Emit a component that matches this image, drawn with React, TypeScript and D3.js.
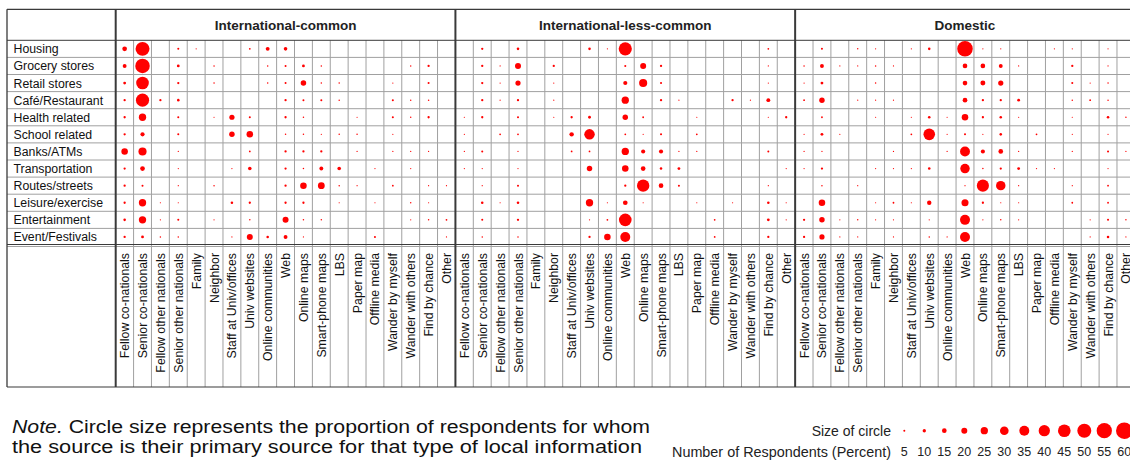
import React from "react";
import * as d3 from "d3";

const categories = ["Housing", "Grocery stores", "Retail stores", "Café/Restaurant", "Health related", "School related", "Banks/ATMs", "Transportation", "Routes/streets", "Leisure/exercise", "Entertainment", "Event/Festivals"];
const sources = ["Fellow co-nationals", "Senior co-nationals", "Fellow other nationals", "Senior other nationals", "Family", "Neighbor", "Staff at Univ/offices", "Univ websites", "Online communities", "Web", "Online maps", "Smart-phone maps", "LBS", "Paper map", "Offline media", "Wander by myself", "Wander with others", "Find by chance", "Other"];
const groupNames = ["International-common", "International-less-common", "Domestic"];

const intlCommon = [
  [15, 50, 0, 5, 2, 0, 0, 4, 12, 11, 0, 0, 0, 0, 0, 0, 0, 0, 0],
  [12, 52, 0, 8, 0, 3, 0, 0, 3, 5, 8, 3, 0, 0, 0, 0, 3, 6, 0],
  [8, 45, 0, 6, 0, 3, 0, 0, 3, 5, 18, 3, 3, 0, 0, 2, 0, 5, 0],
  [6, 47, 6, 7, 0, 0, 0, 0, 0, 6, 5, 5, 3, 0, 0, 5, 3, 3, 0],
  [6, 25, 0, 5, 0, 2, 17, 5, 0, 6, 3, 0, 0, 2, 0, 5, 3, 6, 0],
  [6, 13, 0, 5, 0, 0, 18, 22, 0, 3, 3, 2, 3, 3, 0, 2, 0, 0, 0],
  [22, 28, 0, 2, 0, 0, 0, 4, 0, 6, 6, 6, 0, 2, 0, 2, 2, 2, 0],
  [6, 15, 0, 2, 0, 0, 2, 11, 0, 6, 3, 12, 11, 0, 2, 0, 2, 0, 0],
  [6, 5, 0, 2, 0, 3, 0, 0, 0, 6, 22, 23, 3, 2, 0, 4, 0, 2, 2],
  [6, 25, 2, 2, 0, 0, 7, 6, 0, 6, 6, 0, 2, 0, 2, 0, 3, 2, 0],
  [7, 25, 2, 5, 0, 2, 0, 3, 0, 20, 3, 3, 0, 0, 0, 0, 2, 3, 4],
  [6, 8, 3, 3, 0, 0, 2, 20, 7, 12, 2, 0, 0, 0, 5, 0, 0, 0, 2],
];

const intlLessCommon = [
  [0, 6, 0, 7, 0, 0, 0, 7, 2, 47, 0, 0, 0, 0, 0, 0, 0, 4, 0],
  [0, 6, 2, 20, 0, 6, 0, 0, 0, 5, 20, 6, 0, 0, 0, 0, 0, 2, 0],
  [0, 6, 2, 17, 0, 2, 0, 0, 0, 13, 28, 5, 0, 0, 0, 0, 0, 2, 0],
  [0, 6, 2, 6, 0, 2, 0, 0, 0, 25, 0, 6, 2, 0, 0, 6, 2, 12, 0],
  [2, 6, 0, 5, 0, 2, 6, 8, 0, 18, 4, 0, 0, 2, 0, 0, 0, 2, 6],
  [2, 0, 4, 4, 0, 0, 14, 37, 0, 4, 2, 5, 0, 4, 0, 0, 0, 0, 0],
  [2, 5, 0, 2, 0, 0, 4, 4, 0, 25, 13, 13, 2, 2, 0, 0, 0, 5, 0],
  [2, 2, 0, 2, 0, 0, 0, 18, 0, 22, 15, 7, 8, 0, 0, 0, 0, 0, 2],
  [0, 2, 0, 5, 0, 0, 0, 0, 0, 6, 44, 15, 5, 0, 0, 0, 0, 2, 0],
  [0, 7, 2, 7, 0, 0, 0, 25, 2, 15, 2, 0, 0, 2, 0, 2, 0, 7, 2],
  [0, 5, 0, 6, 0, 0, 0, 2, 4, 45, 0, 0, 0, 0, 4, 0, 0, 8, 2],
  [0, 3, 0, 3, 0, 0, 0, 6, 22, 35, 0, 0, 0, 0, 4, 0, 0, 6, 0],
];

const domestic = [
  [0, 5, 0, 3, 2, 0, 2, 7, 0, 56, 2, 2, 0, 0, 2, 2, 0, 2, 0],
  [3, 12, 2, 2, 3, 2, 0, 0, 0, 15, 15, 12, 2, 0, 0, 6, 0, 2, 0],
  [2, 8, 0, 0, 3, 0, 0, 0, 0, 15, 16, 17, 0, 0, 0, 5, 2, 3, 0],
  [4, 18, 0, 2, 2, 2, 0, 0, 0, 15, 6, 6, 8, 0, 0, 3, 4, 3, 0],
  [0, 4, 0, 0, 2, 0, 2, 7, 2, 22, 6, 7, 2, 0, 0, 2, 0, 7, 3],
  [2, 8, 2, 0, 0, 0, 4, 41, 2, 5, 2, 7, 0, 4, 0, 2, 0, 2, 0],
  [2, 2, 0, 0, 0, 2, 0, 0, 2, 35, 13, 15, 2, 0, 0, 2, 0, 5, 2],
  [2, 6, 0, 0, 2, 2, 2, 7, 0, 33, 3, 6, 8, 2, 2, 0, 0, 2, 0],
  [0, 3, 0, 2, 0, 0, 0, 0, 0, 2, 43, 33, 2, 0, 0, 2, 0, 4, 0],
  [0, 22, 0, 0, 2, 4, 2, 14, 0, 24, 6, 2, 2, 0, 0, 4, 0, 4, 0],
  [6, 18, 2, 3, 2, 2, 0, 2, 0, 35, 2, 3, 2, 0, 0, 0, 2, 5, 3],
  [6, 17, 2, 2, 0, 2, 0, 3, 2, 35, 0, 0, 0, 0, 0, 0, 2, 7, 2],
];

const legendValues = [5, 10, 15, 20, 25, 30, 35, 40, 45, 50, 55, 60];

const W = 1130;
const H = 462;
const FONT = "'Liberation Sans', Arial, sans-serif";

export default function App() {
  const groupData = [intlCommon, intlLessCommon, domestic];
  const left = 7;
  const labelRight = 115.7;
  const top = 9.3;
  const headerBottom = 40.3;
  const rowsBottom = 245.5;
  const tableBottom = 387;
  const colW = 17.88;
  const groupW = colW * sources.length;

  const groupX = d3.scaleBand<number>().domain([0, 1, 2]).range([labelRight, labelRight + groupW * 3]);
  const y = d3.scaleBand<string>().domain(categories).range([headerBottom, rowsBottom]);
  const r = d3.scaleLinear().domain([0, 60]).range([0.35, 8.3]);
  const legendX = d3.scaleLinear().domain([0, legendValues.length - 1]).range([904.3, 1124.3]);

  const gridGray = "#a0a0a0";
  const dark = "#3a3a3a";
  const right = W + 20;

  return (
    <svg width={W} height={H} style={{ position: "absolute", left: 0, top: 0, background: "#fff" }} fontFamily={FONT}>
      {categories.slice(1).map((c) => (
        <line key={"h" + c} x1={left} x2={right} y1={y(c)} y2={y(c)} stroke={gridGray} strokeWidth={1} />
      ))}
      {[0, 1, 2].map((g) => {
        const x = d3.scaleBand<string>().domain(sources).range([groupX(g)!, groupX(g)! + groupW]);
        return sources.slice(1).map((s) => (
          <line key={"v" + g + s} x1={x(s)} x2={x(s)} y1={headerBottom} y2={tableBottom} stroke={gridGray} strokeWidth={1} />
        ));
      })}
      <line x1={left} x2={right} y1={top} y2={top} stroke={dark} strokeWidth={1.3} />
      <line x1={left} x2={right} y1={headerBottom} y2={headerBottom} stroke={dark} strokeWidth={1} />
      <line x1={left} x2={right} y1={rowsBottom - 1} y2={rowsBottom - 1} stroke={dark} strokeWidth={1} />
      <line x1={left} x2={right} y1={rowsBottom + 1} y2={rowsBottom + 1} stroke={gridGray} strokeWidth={1} />
      <line x1={left} x2={right} y1={tableBottom} y2={tableBottom} stroke={dark} strokeWidth={1.2} />
      <line x1={left} x2={left} y1={top} y2={tableBottom} stroke={dark} strokeWidth={1.3} />
      <line x1={labelRight} x2={labelRight} y1={top} y2={tableBottom} stroke={dark} strokeWidth={2} />
      {[1, 2].map((g) => (
        <line key={"gs" + g} x1={groupX(g)} x2={groupX(g)} y1={top} y2={tableBottom} stroke={dark} strokeWidth={2} />
      ))}

      {groupNames.map((name, g) => (
        <text key={name} x={groupX(g)! + groupW / 2} y={25} textAnchor="middle" dominantBaseline="central" fontSize={13.5} fontWeight="bold" fill="#222">
          {name}
        </text>
      ))}

      {categories.map((c) => (
        <text key={"rl" + c} x={13.5} y={y(c)! + y.bandwidth() / 2 + 0.5} dominantBaseline="central" fontSize={12.3} fill="#111">
          {c}
        </text>
      ))}

      {groupData.map((data, g) => {
        const x = d3.scaleBand<string>().domain(sources).range([groupX(g)!, groupX(g)! + groupW]);
        return (
          <g key={"g" + g}>
            {sources.map((s) => {
              const cx = x(s)! + x.bandwidth() / 2;
              return (
                <text key={"cl" + s} transform={`translate(${cx + 0.5},253) rotate(-90)`} textAnchor="end" dominantBaseline="central" fontSize={12.3} fill="#111">
                  {s}
                </text>
              );
            })}
            {data.map((row, i) =>
              row.map((v, j) =>
                v > 0 ? (
                  <circle key={`c${i}-${j}`} cx={x(sources[j])! + x.bandwidth() / 2} cy={y(categories[i])! + y.bandwidth() / 2} r={r(v)} fill="#ff0000" />
                ) : null
              )
            )}
          </g>
        );
      })}

      <text x={12} y={433} fontSize={17.5} fill="#111" textLength={638} lengthAdjust="spacingAndGlyphs">
        <tspan fontStyle="italic">Note.</tspan> Circle size represents the proportion of respondents for whom
      </text>
      <text x={12} y={453} fontSize={17.5} fill="#111" textLength={630} lengthAdjust="spacingAndGlyphs">
        the source is their primary source for that type of local information
      </text>

      <text x={891} y={431} textAnchor="end" dominantBaseline="central" fontSize={14} fill="#222">
        Size of circle
      </text>
      <text x={891} y={451.5} textAnchor="end" dominantBaseline="central" fontSize={14} fill="#222" textLength={219} lengthAdjust="spacingAndGlyphs">
        Number of Respondents (Percent)
      </text>
      {legendValues.map((v, i) => (
        <g key={"lg" + v}>
          <circle cx={legendX(i)} cy={430.7} r={r(v)} fill="#ff0000" />
          <text x={legendX(i)} y={451.5} textAnchor="middle" dominantBaseline="central" fontSize={12.5} fill="#222">
            {v}
          </text>
        </g>
      ))}
    </svg>
  );
}
